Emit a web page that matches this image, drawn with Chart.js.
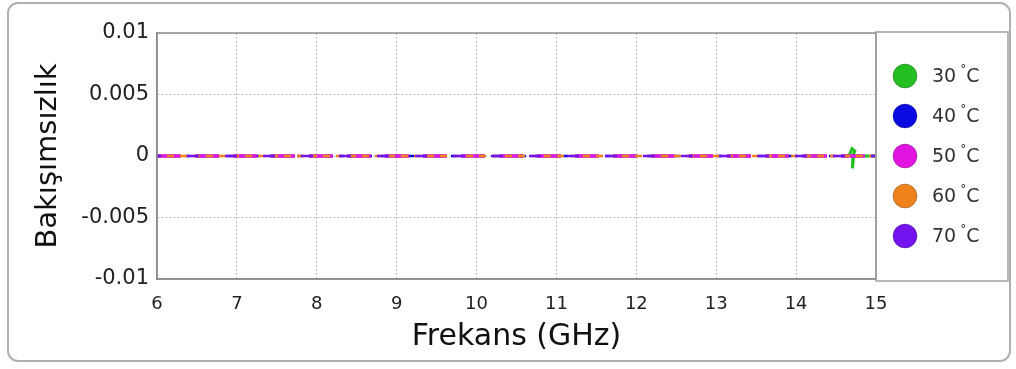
<!DOCTYPE html>
<html>
<head>
<meta charset="utf-8">
<script src="https://cdn.jsdelivr.net/npm/chart.js@4.4.1/dist/chart.umd.min.js"></script>
<style>
  html, body { margin: 0; padding: 0; background: #fff; }
  #wrap { width: 1016px; height: 369px; }
</style>
</head>
<body>
<div id="wrap"><canvas id="graph" width="1016" height="369"></canvas></div>
<script>
// frequency sweep (GHz) shared by the flat curves
const freq = [6, 6.5, 7, 7.5, 8, 8.5, 9, 9.5, 10, 10.5, 11, 11.5, 12, 12.5, 13, 13.5, 14, 14.5, 15];
const val40 = [0, 0, 0, 0, 0, 0, 0, 0, 0, 0, 0, 0, 0, 0, 0, 0, 0, 0, 0];
const val50 = [0, 0, 0, 0, 0, 0, 0, 0, 0, 0, 0, 0, 0, 0, 0, 0, 0, 0, 0];
const val60 = [0, 0, 0, 0, 0, 0, 0, 0, 0, 0, 0, 0, 0, 0, 0, 0, 0, 0, 0];
const val70 = [0, 0, 0, 0, 0, 0, 0, 0, 0, 0, 0, 0, 0, 0, 0, 0, 0, 0, 0];
// 30 °C has a small kink near 14.7 GHz
const freq30 = [6, 6.5, 7, 7.5, 8, 8.5, 9, 9.5, 10, 10.5, 11, 11.5, 12, 12.5, 13, 13.5, 14, 14.5, 14.66, 14.7, 14.735, 14.72, 14.71, 14.705, 14.72, 14.8, 15];
const val30 = [0, 0, 0, 0, 0, 0, 0, 0, 0, 0, 0, 0, 0, 0, 0, 0, 0, 0, 0, 0.0006, 0.0004, 0.0002, 0, -0.001, 0, 0, 0];

const labels = ["30 °C", "40 °C", "50 °C", "60 °C", "70 °C"];
const colors = ['rgb(34,190,34)', 'rgb(10,10,225)', 'rgb(225,20,225)', 'rgb(240,130,30)', 'rgb(115,20,240)'];
const xTicks = [6, 7, 8, 9, 10, 11, 12, 13, 14, 15];
const yTicks = [-0.01, -0.005, 0, 0.005, 0.01];

const FONT = "'DejaVu Sans', Verdana, sans-serif";

function pts(xs, ys) {
    return xs.map((x, i) => ({x: x, y: ys[i]}));
}

const data = {
    datasets: [
        {label: labels[0], data: pts(freq30, val30), borderColor: colors[0], borderWidth: 3,
         borderDash: [24, 14], order: 5,
         segment: {borderDash: c => (c.p0.parsed.y !== 0 || c.p1.parsed.y !== 0) ? [] : undefined}},
        {label: labels[1], data: pts(freq, val40), borderColor: colors[1], borderWidth: 2.5, borderDash: [5, 9], order: 4},
        {label: labels[2], data: pts(freq, val50), borderColor: colors[2], borderWidth: 3.5, borderDash: [24, 14], order: 3},
        {label: labels[3], data: pts(freq, val60), borderColor: colors[3], borderWidth: 2.5, borderDash: [7, 6], borderDashOffset: 3, order: 2},
        {label: labels[4], data: pts(freq, val70), borderColor: colors[4], borderWidth: 2.5, borderDash: [12, 26], borderDashOffset: 8, order: 1}
    ]
};

// rounded outer frame, plot frame and the boxed legend on the right
const decor = {
    id: 'decor',
    beforeDraw(chart) {
        const ctx = chart.ctx;
        ctx.save();
        ctx.fillStyle = '#fff';
        ctx.fillRect(0, 0, chart.width, chart.height);
        ctx.strokeStyle = '#b0b0b0';
        ctx.lineWidth = 2;
        ctx.beginPath();
        ctx.roundRect(8, 3, 1002, 358, 10);
        ctx.stroke();
        ctx.restore();
    },
    afterDraw(chart) {
        const ctx = chart.ctx;
        const a = chart.chartArea;
        ctx.save();
        ctx.strokeStyle = '#8c8c8c';
        ctx.lineWidth = 1.5;
        ctx.strokeRect(a.left, a.top, a.right - a.left, a.bottom - a.top);

        // legend box
        const bx = a.right, by = a.top - 1, bw = 1008 - a.right, bh = a.bottom - a.top + 3;
        ctx.strokeStyle = '#a0a0a0';
        ctx.strokeRect(bx, by, bw, bh);

        chart.data.datasets.forEach((ds, i) => {
            const cy = 76 + i * 40;
            const cx = 905;
            ctx.beginPath();
            ctx.arc(cx, cy, 12, 0, Math.PI * 2);
            ctx.fillStyle = ds.borderColor;
            ctx.fill();
            ctx.lineWidth = 1;
            ctx.strokeStyle = 'rgba(0,0,0,0.25)';
            ctx.stroke();

            // label with a small raised degree sign
            const parts = ds.label.split('°');
            ctx.fillStyle = '#333';
            ctx.textBaseline = 'middle';
            ctx.textAlign = 'left';
            ctx.font = '19px ' + FONT;
            let tx = 932;
            ctx.fillText(parts[0], tx, cy + 1);
            tx += ctx.measureText(parts[0]).width - 2;
            ctx.font = '12px ' + FONT;
            ctx.fillText('°', tx, cy - 6);
            tx += ctx.measureText('°').width;
            ctx.font = '19px ' + FONT;
            ctx.fillText(parts[1], tx, cy + 1);
        });
        ctx.restore();
    }
};

const config = {
    type: 'line',
    data: data,
    options: {
        responsive: false,
        animation: false,
        layout: {padding: {left: 31, right: 140, top: 33, bottom: 14}},
        elements: {point: {radius: 0}, line: {tension: 0}},
        plugins: {legend: {display: false}, tooltip: {enabled: false}},
        scales: {
            x: {
                type: 'linear',
                min: 6, max: 15,
                afterBuildTicks: s => { s.ticks = xTicks.map(v => ({value: v})); },
                afterFit: s => { s.height = 76; },
                grid: {color: '#bdbdbd', lineWidth: 1, drawTicks: false},
                border: {display: true, color: '#8c8c8c', width: 1.5, dash: [2, 2]},
                ticks: {color: '#222', padding: 15, font: {family: FONT, size: 18}},
                title: {display: true, text: 'Frekans (GHz)', color: '#111',
                        font: {family: FONT, size: 30}, padding: 0}
            },
            y: {
                min: -0.01, max: 0.01,
                afterBuildTicks: s => { s.ticks = yTicks.map(v => ({value: v})); },
                afterFit: s => { s.width = 157 - 31; },
                grid: {color: '#bdbdbd', lineWidth: 1, drawTicks: false},
                border: {display: true, color: '#8c8c8c', width: 1.5, dash: [2, 2]},
                ticks: {color: '#222', padding: 8, font: {family: FONT, size: 21}},
                title: {display: true, text: 'Bakışımsızlık', color: '#111',
                        font: {family: FONT, size: 29}, padding: 0}
            }
        }
    },
    plugins: [decor]
};

config.options.scales.y.ticks.callback = v => String(+v.toFixed(3));

new Chart(document.getElementById('graph'), config);
</script>
</body>
</html>
